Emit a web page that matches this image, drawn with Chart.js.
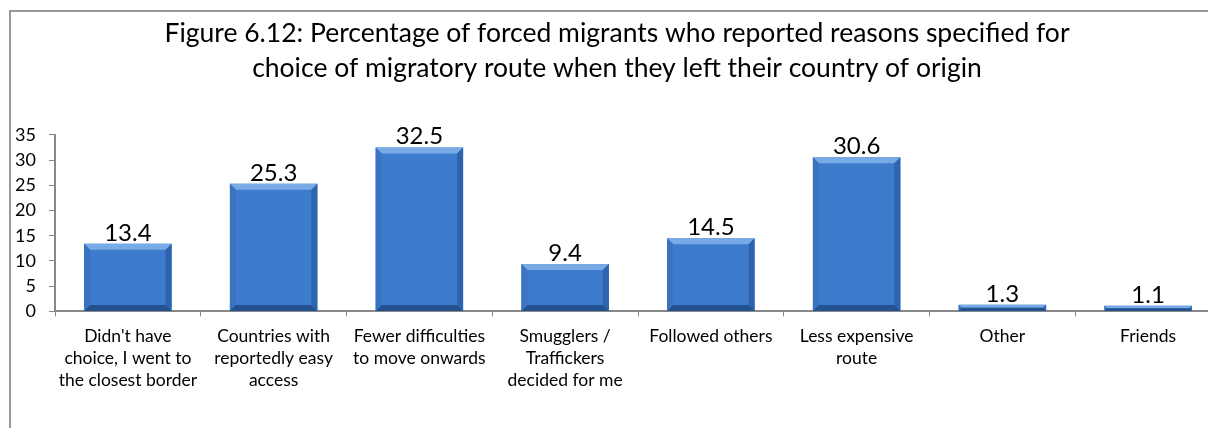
<!DOCTYPE html>
<html>
<head>
<meta charset="utf-8">
<script src="https://cdn.jsdelivr.net/npm/chart.js@4.4.0/dist/chart.umd.min.js"></script>
<style>
  html, body { margin: 0; padding: 0; width: 1208px; height: 428px; overflow: hidden; background: #fff; }
  #frame { position: absolute; left: 9px; top: 10px; width: 1218px; height: 440px; border: 2px solid #999; background: #fff; }
  canvas { display: block; }
</style>
</head>
<body>
<div id="frame"><canvas id="chart" width="1218" height="440"></canvas></div>
<script>
// categories, values and axis ticks
const reasons = [
  ["Didn't have", "choice, I went to", "the closest border"],
  ["Countries with", "reportedly easy", "access"],
  ["Fewer difficulties", "to move onwards"],
  ["Smugglers /", "Traffickers", "decided for me"],
  "Followed others",
  ["Less expensive", "route"],
  "Other",
  "Friends"
];
const percents = [13.4, 25.3, 32.5, 9.4, 14.5, 30.6, 1.3, 1.1];
const yTicks = [0, 5, 10, 15, 20, 25, 30, 35];

const chartTitle = [
  "Figure 6.12: Percentage of forced migrants who reported reasons specified for",
  "choice of migratory route when they left their country of origin"
];

const FONT = "Lato, 'Open Sans', sans-serif";

// fake the 3D bevel of the Excel bars
const bevelBars = {
  id: 'bevelBars',
  afterDatasetsDraw(chart) {
    const ctx = chart.ctx;
    const meta = chart.getDatasetMeta(0);
    meta.data.forEach(function (bar) {
      const w = bar.width;
      const left = bar.x - w / 2, right = bar.x + w / 2;
      const top = bar.y, bottom = bar.base;
      const h = bottom - top;
      const b = Math.min(6, h / 2);
      ctx.save();
      // top bevel
      ctx.fillStyle = '#78aae6';
      ctx.beginPath();
      ctx.moveTo(left, top); ctx.lineTo(right, top);
      ctx.lineTo(right - b, top + b); ctx.lineTo(left + b, top + b);
      ctx.closePath(); ctx.fill();
      // left bevel
      ctx.fillStyle = '#3a73c0';
      ctx.beginPath();
      ctx.moveTo(left, top); ctx.lineTo(left + b, top + b);
      ctx.lineTo(left + b, bottom - b); ctx.lineTo(left, bottom);
      ctx.closePath(); ctx.fill();
      // right bevel
      ctx.fillStyle = '#2e64ad';
      ctx.beginPath();
      ctx.moveTo(right, top); ctx.lineTo(right - b, top + b);
      ctx.lineTo(right - b, bottom - b); ctx.lineTo(right, bottom);
      ctx.closePath(); ctx.fill();
      // bottom bevel
      ctx.fillStyle = '#24528f';
      ctx.beginPath();
      ctx.moveTo(left, bottom); ctx.lineTo(left + b, bottom - b);
      ctx.lineTo(right - b, bottom - b); ctx.lineTo(right, bottom);
      ctx.closePath(); ctx.fill();
      ctx.restore();
    });
  }
};

// value above each bar
const valueLabels = {
  id: 'valueLabels',
  afterDatasetsDraw(chart) {
    const ctx = chart.ctx;
    const meta = chart.getDatasetMeta(0);
    ctx.save();
    ctx.font = '24px ' + FONT;
    ctx.fillStyle = '#000';
    ctx.textAlign = 'center';
    ctx.textBaseline = 'bottom';
    meta.data.forEach(function (bar, i) {
      ctx.fillText(percents[i].toFixed(1), bar.x, bar.y + 1);
    });
    ctx.restore();
  }
};

const ctx = document.getElementById('chart').getContext('2d');
new Chart(ctx, {
  type: 'bar',
  data: {
    labels: reasons,
    datasets: [{
      data: percents,
      backgroundColor: function (c) {
        const el = c.element;
        if (!el || !el.width) return '#3d7ccc';
        const g = c.chart.ctx.createLinearGradient(0, el.y, 0, el.base);
        g.addColorStop(0, '#4a8ad8');
        g.addColorStop(1, '#3370be');
        return g;
      },
      borderWidth: 0,
      barPercentage: 0.6,
      categoryPercentage: 1.0
    }]
  },
  options: {
    responsive: false,
    animation: false,
    layout: { padding: { left: 2, right: 8, top: 2, bottom: 52 } },
    plugins: {
      legend: { display: false },
      tooltip: { enabled: false },
      title: {
        display: true,
        text: chartTitle,
        color: '#000',
        font: { family: FONT, size: 26.5, weight: 'normal', lineHeight: 1.32 },
        padding: { top: 2, bottom: 49 }
      }
    },
    scales: {
      x: {
        offset: true,
        grid: { offset: true, drawOnChartArea: false, drawTicks: true, tickLength: 5, color: '#888' },
        border: { color: '#888', width: 2 },
        ticks: {
          color: '#000',
          maxRotation: 0,
          autoSkip: false,
          padding: 9,
          font: { family: FONT, size: 17.5, lineHeight: 1.25 }
        }
      },
      y: {
        min: 0,
        max: 35,
        afterBuildTicks: function (axis) {
          axis.ticks = yTicks.map(function (v) { return { value: v }; });
        },
        afterFit: function (axis) { axis.width = 42; },
        grid: { drawOnChartArea: false, drawTicks: true, tickLength: 6, color: '#888' },
        border: { color: '#888', width: 2 },
        ticks: {
          color: '#000',
          padding: 13,
          font: { family: FONT, size: 18 }
        }
      }
    }
  },
  plugins: [bevelBars, valueLabels]
});
</script>
</body>
</html>
